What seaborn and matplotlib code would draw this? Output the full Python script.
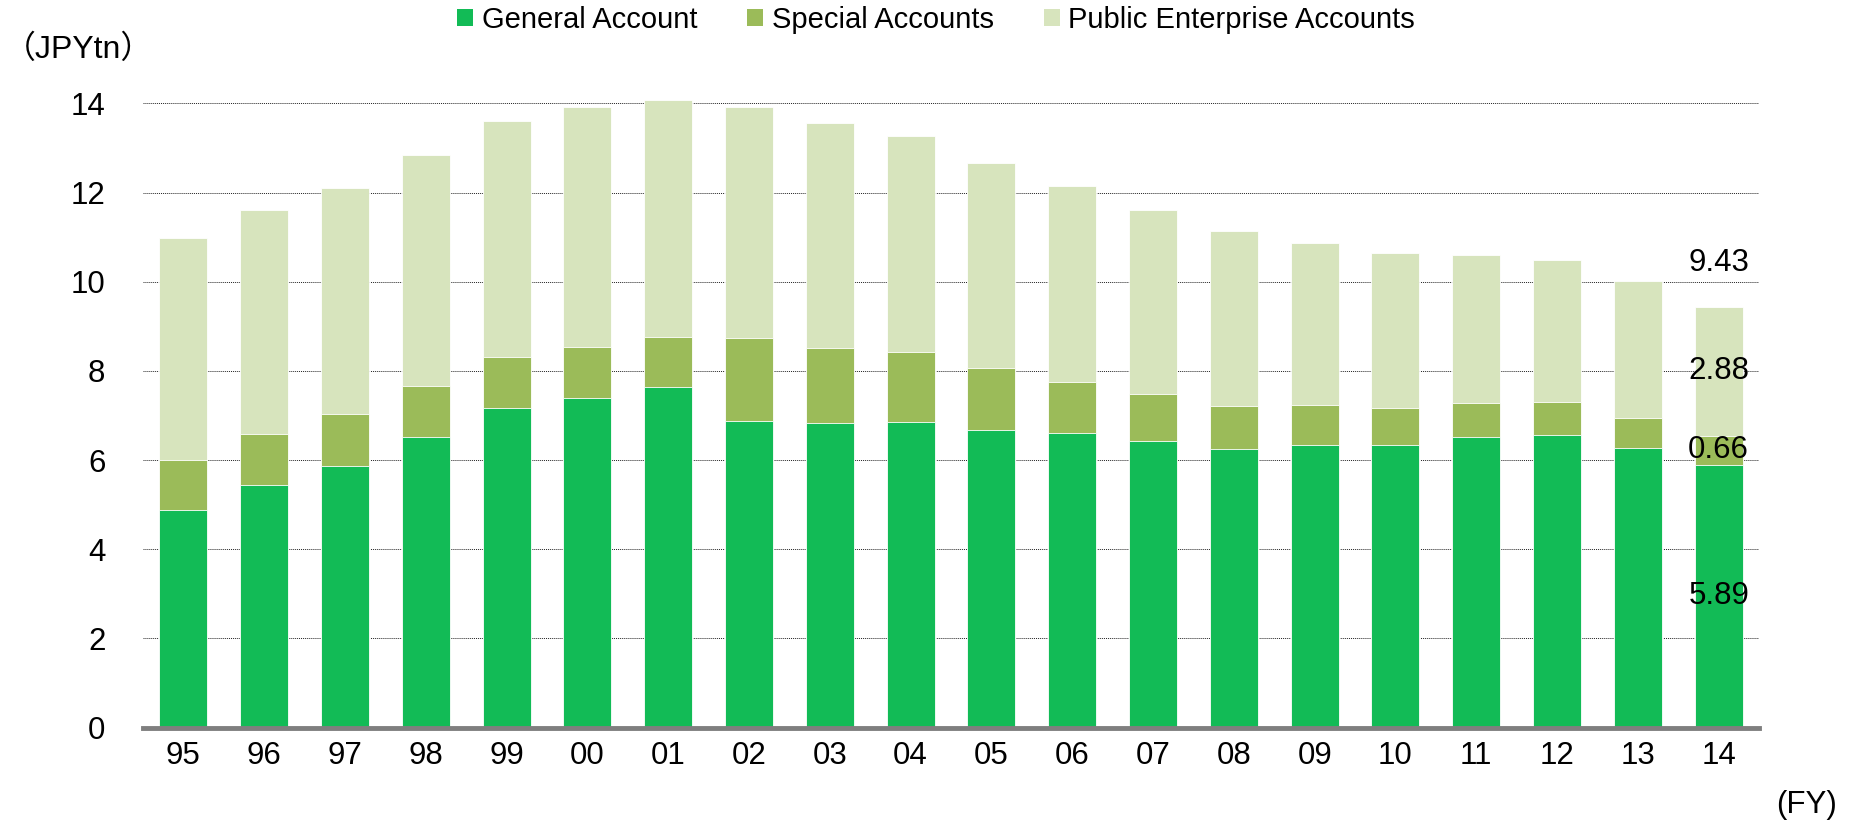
import numpy as np
import pandas as pd
import matplotlib.pyplot as plt
import seaborn as sns
from matplotlib.patches import Patch

##### data #####
years = ['95', '96', '97', '98', '99', '00', '01', '02', '03', '04',
         '05', '06', '07', '08', '09', '10', '11', '12', '13', '14']
general = [4.89, 5.45, 5.87, 6.51, 7.17, 7.40, 7.64, 6.88, 6.82, 6.86,
           6.67, 6.61, 6.43, 6.25, 6.34, 6.34, 6.52, 6.57, 6.28, 5.89]
special = [1.10, 1.13, 1.17, 1.14, 1.15, 1.14, 1.12, 1.85, 1.70, 1.56,
           1.39, 1.14, 1.06, 0.97, 0.89, 0.83, 0.77, 0.74, 0.67, 0.66]
public = [4.98, 5.03, 5.07, 5.19, 5.28, 5.38, 5.32, 5.19, 5.04, 4.85,
          4.60, 4.40, 4.12, 3.91, 3.64, 3.47, 3.32, 3.18, 3.07, 2.88]
series_names = ['General Account', 'Special Accounts', 'Public Enterprise Accounts']
colors = ['#12BB56', '#9BBB59', '#D7E4BD']

df = pd.DataFrame({'Year': years, 'General': general, 'Special': special, 'Public': public})
df['GS'] = df['General'] + df['Special']
df['Total'] = df['GS'] + df['Public']

##### plot #####
sns.set_style('white')
plt.rcParams['font.family'] = ['Liberation Sans', 'Noto Sans CJK JP', 'DejaVu Sans']
plt.rcParams['text.color'] = 'black'
plt.rcParams['xtick.color'] = 'black'
plt.rcParams['ytick.color'] = 'black'

fs = 22.5
fig = plt.figure(figsize=(18.54, 8.24), dpi=100)
ax = fig.add_axes([0.0771, 0.1171, 0.8717, 0.8115])

# stacked bars drawn back to front from cumulative sums
for col, c in zip(['Total', 'GS', 'General'], colors[::-1]):
    sns.barplot(data=df, x='Year', y=col, color=c, width=0.595, ax=ax,
                edgecolor='white', linewidth=0.6, saturation=1)

ax.set_xlim(-0.5, len(years) - 0.5)
ax.set_ylim(0, 15)
ax.set_yticks(np.arange(0, 15, 2))
ax.set_axisbelow(True)
ax.yaxis.grid(True, linestyle=(0, (1, 1)), color='#222222', linewidth=0.7)
ax.xaxis.grid(False)
for s in ['top', 'right', 'left']:
    ax.spines[s].set_visible(False)
ax.spines['bottom'].set_color('#7F7F7F')
ax.spines['bottom'].set_linewidth(3.5)
ax.spines['bottom'].set_zorder(5)
ax.tick_params(axis='y', length=0, pad=27, labelsize=fs)
ax.tick_params(axis='x', length=0, pad=10, labelsize=fs)
ax.set_xlabel('')
ax.set_ylabel('')

# labels for the last year
i = len(years) - 1
last = df.iloc[i]
ax.text(i, last['General'] / 2, f"{last['General']:.2f}", ha='center', va='center', fontsize=fs)
ax.text(i, last['General'] + last['Special'] / 2, f"{last['Special']:.2f}", ha='center', va='center', fontsize=fs)
ax.text(i, last['GS'] + last['Public'] / 2, f"{last['Public']:.2f}", ha='center', va='center', fontsize=fs)
ax.text(i, last['Total'] + 1.0, f"{last['Total']:.2f}", ha='center', va='center', fontsize=fs)

handles = [Patch(facecolor=c, edgecolor='none') for c in colors]
fig.legend(handles, series_names, loc='center', bbox_to_anchor=(0.505, 0.976), ncol=3,
           frameon=False, fontsize=21, handlelength=0.55, handleheight=0.55,
           handletextpad=0.3, columnspacing=1.7)

fig.text(0.002, 0.940, '（JPYtn）', fontsize=23, ha='left', va='center')
fig.text(0.991, 0.023, '(FY)', fontsize=fs, ha='right', va='center')

plt.savefig('out.png', dpi=100)
